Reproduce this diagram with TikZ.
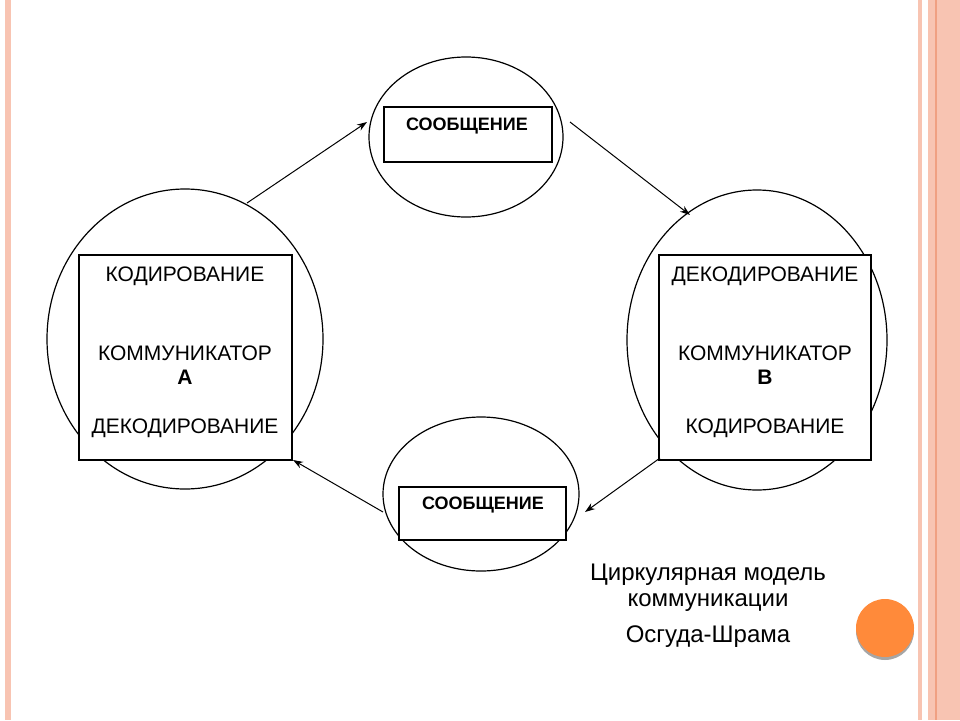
\documentclass[tikz,border=0pt]{standalone}
\usepackage{fontspec}
\setmainfont{Liberation Sans}
\usetikzlibrary{arrows.meta}
\definecolor{stripe}{RGB}{248,196,178}
\definecolor{stripedark}{RGB}{240,160,130}
\definecolor{dot}{RGB}{255,138,58}
\begin{document}
\begin{tikzpicture}[x=1pt,y=-1pt,
  ell/.style={draw=black,fill=white,line width=1.2pt},
  bx/.style={draw=black,fill=white,line width=1.2pt},
  txt/.style={font=\fontsize{21}{24}\selectfont},
  btxt/.style={font=\fontsize{18}{20}\selectfont\bfseries},
  arr/.style={draw=black,line width=1pt,-{Stealth[length=10pt,width=7pt]}}]
\useasboundingbox (0,0) rectangle (960,720);
\fill[white] (0,0) rectangle (960,720);
\fill[stripe] (5,0) rectangle (11,720);
\fill[stripe] (918,0) rectangle (922,720);
\fill[stripe] (928,0) rectangle (960,720);
\fill[stripedark] (935,0) rectangle (937,720);
% ellipses
\draw[ell] (185,339) ellipse [x radius=138, y radius=150];
\draw[ell] (466,137) ellipse [x radius=97, y radius=80];
\draw[ell] (481,494) ellipse [x radius=98, y radius=77];
\draw[ell] (757,340) ellipse [x radius=130, y radius=150];
% boxes
\node[bx,minimum width=213,minimum height=205] (ba) at (185.5,357.5) {};
\node[bx,minimum width=168,minimum height=55] (bt) at (468,134.5) {};
\node[bx,minimum width=167,minimum height=53] (bb) at (482.5,513.5) {};
\node[bx,minimum width=212,minimum height=205] (bbr) at (765,357.5) {};
\node[txt] (a1) at (185,276) {КОДИРОВАНИЕ};
\node[txt] (a2) at (185,353) {КОММУНИКАТОР};
\node[txt,font=\fontsize{21}{24}\selectfont\bfseries] (a3) at (185,377) {А};
\node[txt] (a4) at (185,428) {ДЕКОДИРОВАНИЕ};
\node[txt] (b1) at (765,276) {ДЕКОДИРОВАНИЕ};
\node[txt] (b2) at (765,353) {КОММУНИКАТОР};
\node[txt,font=\fontsize{21}{24}\selectfont\bfseries] (b3) at (765,377) {В};
\node[txt] (b4) at (765,428) {КОДИРОВАНИЕ};
\node[btxt] (t1) at (467,126) {СООБЩЕНИЕ};
\node[btxt] (t2) at (483,505) {СООБЩЕНИЕ};
% arrows
\coordinate (p1) at (247,203); \coordinate (p2) at (367,122);
\coordinate (p3) at (570,122); \coordinate (p4) at (690,215);
\coordinate (p5) at (660,458); \coordinate (p6) at (585,512);
\coordinate (p7) at (383,512); \coordinate (p8) at (293,460);
\draw[arr] (p1) -- (p2);
\draw[arr] (p3) -- (p4);
\draw[arr] (p5) -- (p6);
\draw[arr] (p7) -- (p8);
% caption
\node[font=\fontsize{24}{28}\selectfont] (c1) at (708,575) {Циркулярная модель};
\node[font=\fontsize{24}{28}\selectfont] (c2) at (708,603) {коммуникации};
\node[font=\fontsize{24}{28}\selectfont] (c3) at (708,637) {Осгуда-Шрама};
% orange dot
\fill[gray!70] (885,631) circle (29);
\fill[dot] (885,628) circle (29);
\end{tikzpicture}
\end{document}
